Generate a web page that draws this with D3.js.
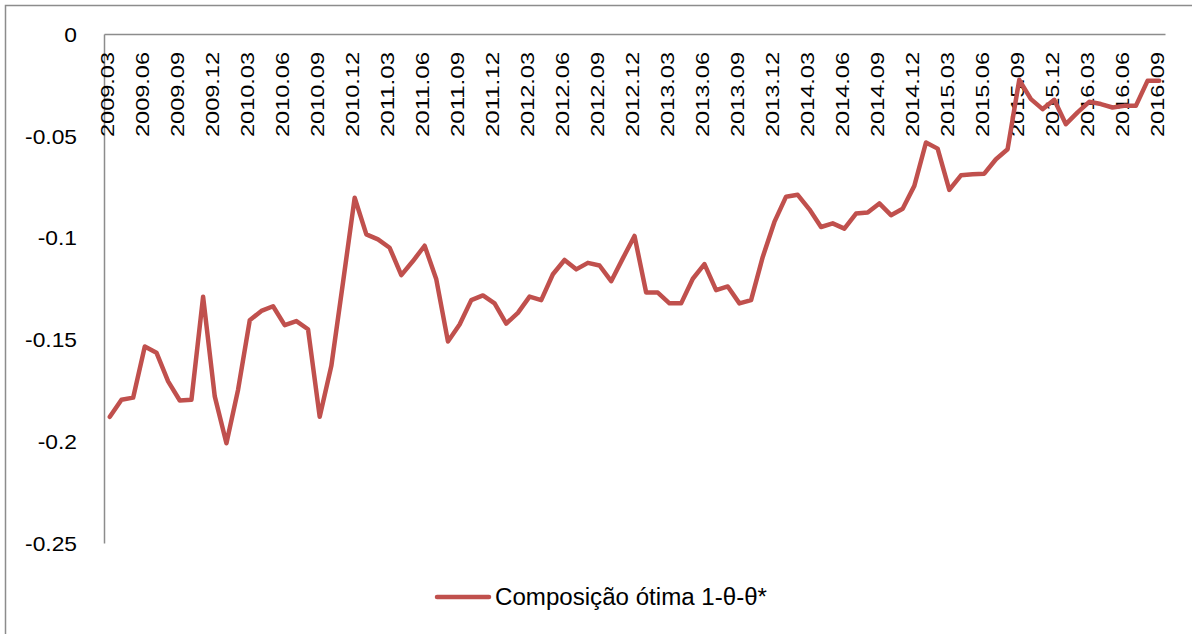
<!DOCTYPE html>
<html>
<head>
<meta charset="utf-8">
<script src="https://cdn.jsdelivr.net/npm/d3@7"></script>
<style>
  body { margin: 0; background: #fff; }
  text { font-family: "Liberation Sans", Arial, sans-serif; fill: #000; }
</style>
</head>
<body>
<script>
// monthly values, 2009.03 .. 2016.09
var startYear = 2009, startMonth = 3;
var values = [
    -0.188, -0.1796, -0.1786, -0.1535, -0.1565, -0.1706, -0.180, -0.1796, -0.129, -0.178,
    -0.201, -0.1747, -0.1406, -0.136, -0.1337, -0.143, -0.141, -0.145, -0.188, -0.163,
    -0.122, -0.0804, -0.0984, -0.1009, -0.105, -0.1184, -0.1115, -0.104, -0.1205, -0.151,
    -0.1427, -0.1307, -0.1284, -0.1323, -0.1422, -0.137, -0.129, -0.1307, -0.118, -0.111,
    -0.1156, -0.1124, -0.1137, -0.1214, -0.1102, -0.0992, -0.127, -0.127, -0.1323, -0.1323,
    -0.1202, -0.113, -0.1258, -0.124, -0.1323, -0.1307, -0.1095, -0.0923, -0.0799, -0.079,
    -0.0861, -0.0948, -0.093, -0.0956, -0.0882, -0.0877, -0.0832, -0.089, -0.0858, -0.0746,
    -0.0533, -0.0563, -0.0766, -0.0694, -0.0689, -0.0686, -0.0615, -0.0566, -0.0225, -0.032,
    -0.0369, -0.0323, -0.0443, -0.0385, -0.0333, -0.0344, -0.0361, -0.0353, -0.0353, -0.023,
    -0.023
];
var yTicks = [0, -0.05, -0.1, -0.15, -0.2, -0.25];
var yTickLabels = ["0", "-0.05", "-0.1", "-0.15", "-0.2", "-0.25"];
var seriesName = "Composição ótima 1-θ-θ*";

var months = values.map(function(v, i) {
    var m = startMonth - 1 + i;
    var yr = startYear + Math.floor(m / 12);
    var mm = (m % 12) + 1;
    return yr + "." + (mm < 10 ? "0" + mm : mm);
});
var data = values.map(function(v, i) { return {month: months[i], value: v}; });
var labelMonths = months.filter(function(d, i) { return i % 3 == 0; });

var W = 1192, H = 634;
var svg = d3.select("body").append("svg")
    .attr("width", W)
    .attr("height", H);

// outer chart border (cropped at right/bottom)
svg.append("rect")
    .attr("x", 5.5).attr("y", 5.5)
    .attr("width", W + 20).attr("height", H + 20)
    .attr("fill", "none")
    .attr("stroke", "#8c8c8c")
    .attr("stroke-width", 1.5);

var plotLeft = 104, plotRight = 1165, plotTop = 34, plotBottom = 543;

var x = d3.scalePoint()
    .domain(months)
    .range([plotLeft, plotRight])
    .padding(0.5);

var y = d3.scaleLinear()
    .domain([-0.25, 0])
    .range([plotBottom, plotTop]);

// left axis
var yaxis = svg.append("g")
    .attr("transform", "translate(" + plotLeft + ",0)")
    .call(d3.axisLeft(y).tickValues(yTicks).tickSize(0).tickPadding(0).tickFormat(function(d, i) { return yTickLabels[i]; }));
yaxis.select(".domain").attr("stroke", "#8c8c8c").attr("stroke-width", 1.5);
yaxis.selectAll("text")
    .attr("font-size", 20)
    .attr("font-family", "Liberation Sans, Arial, sans-serif")
    .attr("text-anchor", "end")
    .attr("x", 0)
    .attr("dy", "0.36em")
    .attr("transform", "translate(-27,0) scale(1.14,1)");

// top axis (category axis at y = 0)
var xaxis = svg.append("g")
    .attr("transform", "translate(0," + y(0) + ")")
    .call(d3.axisTop(x).tickValues(labelMonths).tickSize(0).tickFormat(""));
xaxis.select(".domain").attr("stroke", "#8c8c8c").attr("stroke-width", 1.5);

svg.append("g").selectAll("text")
    .data(labelMonths)
    .enter().append("text")
    .attr("transform", function(d) { return "translate(" + (x(d) - 2) + ",52) rotate(-90)"; })
    .attr("text-anchor", "end")
    .attr("dy", "0.35em")
    .attr("font-size", 19)
    .attr("textLength", 85)
    .attr("lengthAdjust", "spacingAndGlyphs")
    .text(function(d) { return d; });

// series line
var line = d3.line()
    .x(function(d) { return x(d.month); })
    .y(function(d) { return y(d.value); });

svg.append("path")
    .datum(data)
    .attr("fill", "none")
    .attr("stroke", "#c0504d")
    .attr("stroke-width", 4.5)
    .attr("stroke-linejoin", "round")
    .attr("stroke-linecap", "round")
    .attr("d", line);

// legend
var lg = svg.append("g").attr("transform", "translate(0,597)");
lg.append("line")
    .attr("x1", 437).attr("x2", 489)
    .attr("y1", 0).attr("y2", 0)
    .attr("stroke", "#c0504d")
    .attr("stroke-width", 4.5)
    .attr("stroke-linecap", "round");
lg.append("text")
    .attr("x", 495)
    .attr("y", 0)
    .attr("dy", "0.36em")
    .attr("font-size", 23)
    .attr("textLength", 272)
    .attr("lengthAdjust", "spacingAndGlyphs")
    .text(seriesName);
</script>
</body>
</html>
